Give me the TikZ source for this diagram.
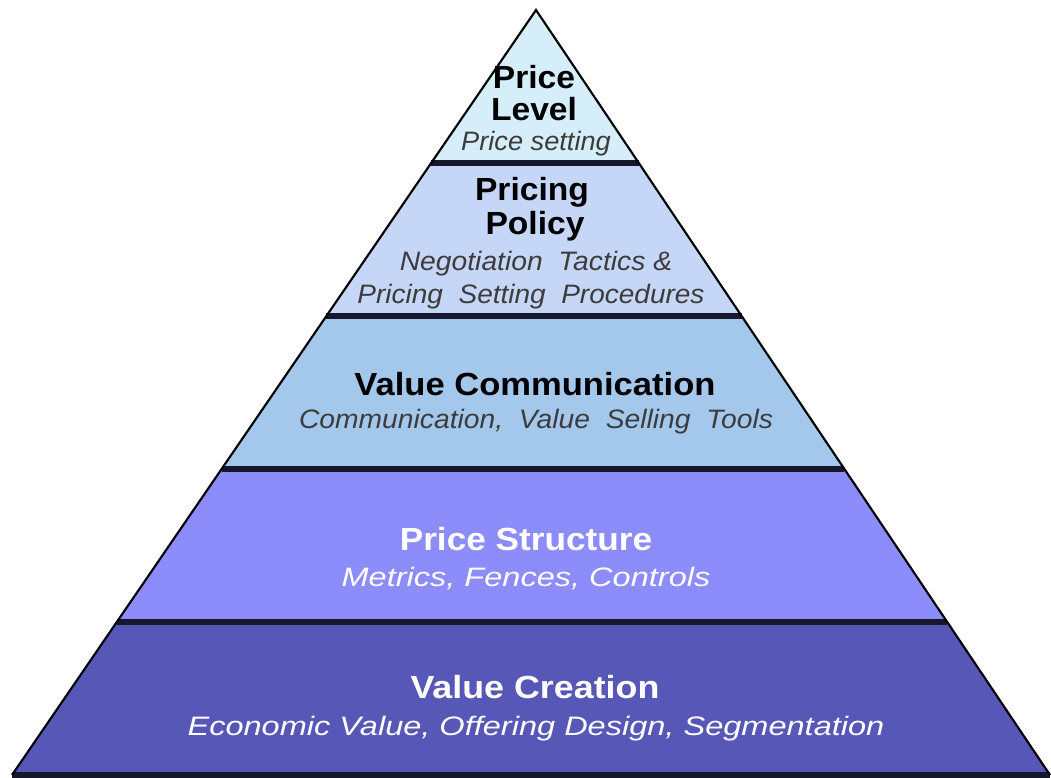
\documentclass[tikz,border=0pt]{standalone}
\usepackage{fontspec}
\setmainfont{Liberation Sans}
\usepackage{graphicx}
\usetikzlibrary{calc}
\definecolor{layA}{RGB}{214,238,250}
\definecolor{layB}{RGB}{198,214,246}
\definecolor{layC}{RGB}{164,200,236}
\definecolor{layD}{RGB}{140,140,250}
\definecolor{layE}{RGB}{87,87,184}
\definecolor{sepcol}{RGB}{22,22,44}
\definecolor{subgray}{RGB}{60,60,60}
\newcommand{\xs}[2]{\scalebox{#1}[1]{#2}}
\begin{document}
\begin{tikzpicture}[x=0.75pt,y=-0.75pt,
  ttl/.style={font=\fontsize{24}{28}\selectfont\bfseries, anchor=base, inner sep=0pt},
  subt/.style={font=\fontsize{20}{24}\selectfont\itshape, anchor=base, inner sep=0pt},
  sepline/.style={draw=sepcol, line width=3.8pt},
  edgeline/.style={draw=black, line width=1.6pt, line join=miter}]
\useasboundingbox (0,0) rectangle (1051,778);
\coordinate (apex) at (536,10);
\coordinate (BL) at (12,775);
\coordinate (BR) at (1050,775);
\coordinate (L1) at ($(apex)!0.2!(BL)$);
\coordinate (R1) at ($(apex)!0.2!(BR)$);
\coordinate (L2) at ($(apex)!0.4!(BL)$);
\coordinate (R2) at ($(apex)!0.4!(BR)$);
\coordinate (L3) at ($(apex)!0.6!(BL)$);
\coordinate (R3) at ($(apex)!0.6!(BR)$);
\coordinate (L4) at ($(apex)!0.8!(BL)$);
\coordinate (R4) at ($(apex)!0.8!(BR)$);
% layers
\fill[layA] (apex) -- (L1) -- (R1) -- cycle;
\fill[layB] (L1) -- (L2) -- (R2) -- (R1) -- cycle;
\fill[layC] (L2) -- (L3) -- (R3) -- (R2) -- cycle;
\fill[layD] (L3) -- (L4) -- (R4) -- (R3) -- cycle;
\fill[layE] (L4) -- (BL) -- (BR) -- (R4) -- cycle;
% separators
\draw[sepline] (L1) -- (R1);
\draw[sepline] (L2) -- (R2);
\draw[sepline] (L3) -- (R3);
\draw[sepline] (L4) -- (R4);
\draw[sepline] (BL) -- (BR);
% outline
\draw[edgeline] (BL) -- (apex) -- (BR);
% texts
\node[ttl] (t1a) at (534,88) {\xs{1.05}{Price}};
\node[ttl] (t1b) at (534,120) {\xs{1.05}{Level}};
\node[subt, text=subgray] (s1) at (536,150) {\xs{1.02}{Price setting}};
\node[ttl] (t2a) at (532,200) {\xs{1.05}{Pricing}};
\node[ttl] (t2b) at (535,234) {\xs{1.05}{Policy}};
\node[subt, text=subgray] (s2a) at (536,270) {\xs{1.06}{Negotiation\ \ Tactics\ \&}};
\node[subt, text=subgray] (s2b) at (531,303) {\xs{1.05}{Pricing\ \ Setting\ \ Procedures}};
\node[ttl] (t3) at (535,395) {\xs{1.08}{Value Communication}};
\node[subt, text=subgray] (s3) at (536,428) {\xs{1.06}{Communication,\ \ Value\ \ Selling\ \ Tools}};
\node[ttl, text=white] (t4) at (526,550) {\xs{1.1}{Price Structure}};
\node[subt, text=white] (s4) at (526,586) {\xs{1.22}{Metrics, Fences, Controls}};
\node[ttl, text=white] (t5) at (535,698) {\xs{1.12}{Value Creation}};
\node[subt, text=white] (s5) at (536,735) {\xs{1.22}{Economic Value, Offering Design, Segmentation}};
\end{tikzpicture}
\end{document}
